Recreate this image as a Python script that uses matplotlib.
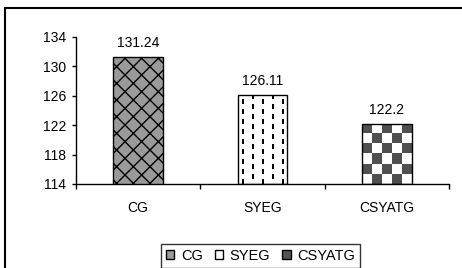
import numpy as np
import matplotlib.pyplot as plt
from matplotlib.patches import Rectangle

plt.rcParams['font.family'] = ['Liberation Sans', 'DejaVu Sans']
plt.rcParams['hatch.linewidth'] = 1.0
plt.rcParams['hatch.color'] = '#222222'

grupos = ['CG', 'SYEG', 'CSYATG']
valores = [131.24, 126.11, 122.2]
etiquetas = ['131.24', '126.11', '122.2']
yticks = [114, 118, 122, 126, 130, 134]

fs = 10

fig = plt.figure(figsize=(4.62, 2.68), dpi=100)
ax = fig.add_axes([76 / 462, 1 - 184 / 268, 373 / 462, 147 / 268])

x = np.arange(len(grupos))
barras = ax.bar(x, [v - 114 for v in valores], bottom=114, width=0.4,
                edgecolor='black', linewidth=1.0, zorder=3)

# CG: gris con patron
barras[0].set_facecolor('#9a9a9a')
barras[0].set_hatch('xx')

# SYEG: blanco con rayas verticales discontinuas
b = barras[1]
b.set_facecolor('none')
filas, cols = np.indices((90, 50))
rayas = ((cols % 10 >= 4) & (cols % 10 < 6) &
         ((filas + 5 * ((cols // 10) % 2)) % 10 < 5)).astype(float)
img1 = ax.imshow(1 - rayas, cmap='gray', vmin=0, vmax=1,
                 extent=(b.get_x(), b.get_x() + b.get_width(), 114, 114 + b.get_height()),
                 origin='lower', aspect='auto', interpolation='nearest', zorder=2)
img1.set_clip_path(b)

# CSYATG: tablero de ajedrez
b = barras[2]
b.set_facecolor('none')
tablero = np.indices((6, 5)).sum(axis=0) % 2
img2 = ax.imshow(tablero, cmap='gray', vmin=-0.45, vmax=1,
                 extent=(b.get_x(), b.get_x() + b.get_width(), 114, 114 + b.get_height()),
                 origin='upper', aspect='auto', interpolation='nearest', zorder=2)
img2.set_clip_path(b)

for xi, v, t in zip(x, valores, etiquetas):
    ax.annotate(t, (xi, v), xytext=(0, 5), textcoords='offset points',
                ha='center', va='bottom', fontsize=fs)

ax.set_xlim(-0.5, 2.5)
ax.set_ylim(114, 134)
ax.set_yticks(yticks)
ax.set_xticks(x)
ax.set_xticklabels(grupos)
ax.set_xticks([-0.5, 0.5, 1.5, 2.5], minor=True)
ax.tick_params(axis='x', which='major', length=0, pad=12, labelsize=fs)
ax.tick_params(axis='x', which='minor', length=3.5, direction='out', width=1)
ax.tick_params(axis='y', length=3, direction='out', width=1, labelsize=fs, pad=4)
ax.spines['top'].set_visible(False)
ax.spines['right'].set_visible(False)
ax.spines['left'].set_linewidth(1)
ax.spines['bottom'].set_linewidth(1)

leg = fig.legend(barras, grupos, loc='center', bbox_to_anchor=(260.5 / 462, 1 - 256 / 268),
                 ncol=3, fontsize=fs + 0.5, frameon=True, fancybox=False, edgecolor='black',
                 handlelength=0.6, handleheight=0.6, handletextpad=0.45, columnspacing=0.8,
                 borderpad=0.35, borderaxespad=0)
leg.get_frame().set_linewidth(1)
leg.legend_handles[0].set_hatch(None)
leg.legend_handles[1].set_facecolor('white')
leg.legend_handles[2].set_facecolor('#555555')

# marco exterior
fig.add_artist(Rectangle((5 / 462, -0.2), 1.2, 1.2 - 8 / 268, transform=fig.transFigure,
                         fill=False, edgecolor='black', linewidth=1.5))

fig.savefig('out.png', dpi=100)
